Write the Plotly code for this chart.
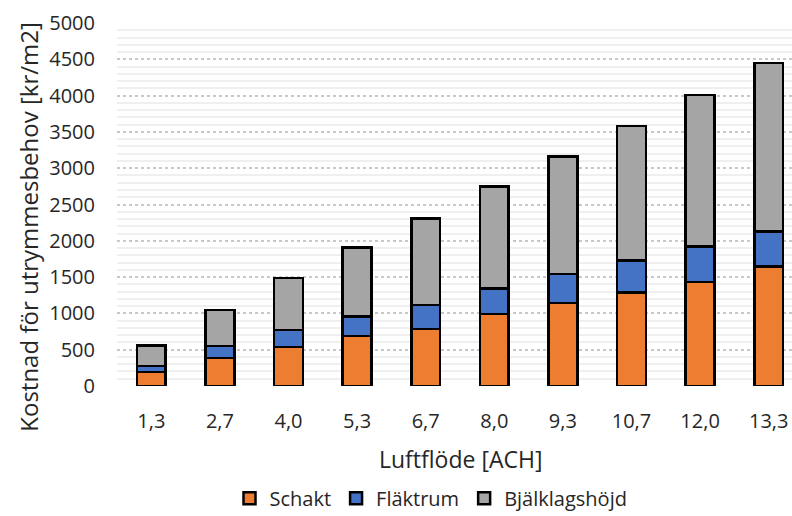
import plotly.graph_objects as go

categories = ["1,3", "2,7", "4,0", "5,3", "6,7", "8,0", "9,3", "10,7", "12,0", "13,3"]
schakt = [190, 385, 535, 690, 785, 990, 1140, 1290, 1430, 1645]
flaktrum = [85, 165, 235, 270, 330, 355, 400, 440, 495, 485]
bjalklag = [285, 500, 720, 950, 1190, 1405, 1620, 1850, 2080, 2320]
series = [("Schakt", schakt, "#ED7D31"), ("Fläktrum", flaktrum, "#4472C4"), ("Bjälklagshöjd", bjalklag, "#A5A5A5")]

FONT = "Open Sans"
L, T, B = 117, 23, 129.5
PH = 516 - T - B
fig = go.Figure()
for name, vals, col in series:
    fig.add_trace(go.Bar(x=categories, y=vals, name=name,
                         marker=dict(color=col, line=dict(color="#000000", width=2.5))))

fig.update_layout(
    barmode="stack",
    bargap=0.58,
    width=792, height=516,
    margin=dict(l=L, r=0, t=T, b=B, autoexpand=False),
    paper_bgcolor="white", plot_bgcolor="white",
    font=dict(family=FONT, size=20, color="#262626"),
    showlegend=True,
    legend=dict(orientation="h", x=(431 - L) / 675, xanchor="center", y=(386.5 - 499) / PH, yanchor="middle",
                font=dict(size=20, color="#262626"), traceorder="normal",
                itemwidth=30, tracegroupgap=0),
    xaxis=dict(range=[-0.5, 9.34], showgrid=False, showline=False, ticks="",
               ticklabelstandoff=21, automargin=False,
               tickfont=dict(size=20)),
    yaxis=dict(range=[0, 5000], dtick=500, showline=False, ticks="",
               showgrid=True, gridcolor="#c8c8c8", gridwidth=1.5, griddash="dot",
               zeroline=False, ticklabelstandoff=21, automargin=False,
               minor=dict(dtick=100, showgrid=True, gridcolor="#efefef", gridwidth=2, griddash="solid"),
               tickfont=dict(size=20)),
    annotations=[
        dict(text="Luftflöde [ACH]", xref="paper", yref="paper",
             x=(460 - L) / 675, y=(386.5 - 460) / PH, xanchor="center", yanchor="middle",
             showarrow=False, font=dict(size=23)),
        dict(text="Kostnad för utrymmesbehov [kr/m2]", xref="paper", yref="paper", textangle=-90,
             x=(29 - L) / 675, y=(386.5 - 227) / PH, xanchor="center", yanchor="middle",
             showarrow=False, font=dict(size=24)),
    ],
)
fig.write_html("out.html")
